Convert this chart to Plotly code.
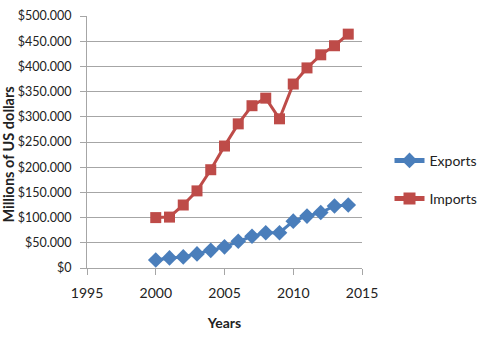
import plotly.graph_objects as go

years = list(range(2000, 2015))
exports = [16, 20, 22, 28, 35, 42, 53, 63, 70, 70, 93, 103, 110, 123, 125]
imports = [100, 101, 125, 153, 195, 242, 286, 322, 337, 296, 365, 397, 423, 441, 464]
y_ticks = list(range(0, 501, 50))
y_labels = ["$0"] + ["${}.000".format(v) for v in y_ticks[1:]]
x_ticks = [1995, 2000, 2005, 2010, 2015]

font_family = "Lato, sans-serif"
axis_grey = "#A6A6A6"

fig = go.Figure()
fig.add_trace(go.Scatter(
    x=years, y=exports, name="Exports", mode="lines+markers", legendgroup="exp",
    line=dict(color="#4A7EBB", width=3),
    marker=dict(symbol="diamond", size=12, color="#4A7EBB"),
))
fig.add_trace(go.Scatter(
    x=years, y=imports, name="Imports", mode="lines+markers", legendgroup="imp",
    line=dict(color="#BE4B48", width=3),
    marker=dict(symbol="square", size=11, color="#BE4B48"),
))

fig.update_layout(
    width=501, height=346,
    margin=dict(l=87, r=139, t=16, b=78, autoexpand=False),
    paper_bgcolor="white", plot_bgcolor="white",
    font=dict(family=font_family, size=13, color="#222"),
    showlegend=True,
    legend=dict(x=1.10, y=0.35, yanchor="middle", xanchor="left",
                font=dict(size=14), tracegroupgap=17, itemsizing="constant",
                bgcolor="rgba(0,0,0,0)"),
    xaxis=dict(
        range=[1995, 2015], tickvals=x_ticks,
        showgrid=False, showline=True, linecolor=axis_grey, linewidth=1,
        ticks="outside", ticklen=6, tickcolor=axis_grey, ticklabelstandoff=6,
        zeroline=False, tickfont=dict(size=14), automargin=False,
        title=dict(text="<b>Years</b>", font=dict(size=14), standoff=18),
    ),
    yaxis=dict(
        range=[0, 500], tickvals=y_ticks, ticktext=y_labels,
        showgrid=True, gridcolor=axis_grey, gridwidth=1,
        showline=True, linecolor=axis_grey, linewidth=1,
        ticks="outside", ticklen=6, tickcolor=axis_grey, ticklabelstandoff=6,
        zeroline=False, tickfont=dict(size=12.5), automargin=False,
    ),
    annotations=[dict(
        text="<b>Millions of US dollars</b>", textangle=-90,
        xref="paper", yref="paper", x=-87 / 275 + 9 / 275, y=0.45,
        xanchor="center", yanchor="middle", showarrow=False,
        font=dict(size=14.5, color="#222"),
    )],
)

fig.write_html("out.html")
